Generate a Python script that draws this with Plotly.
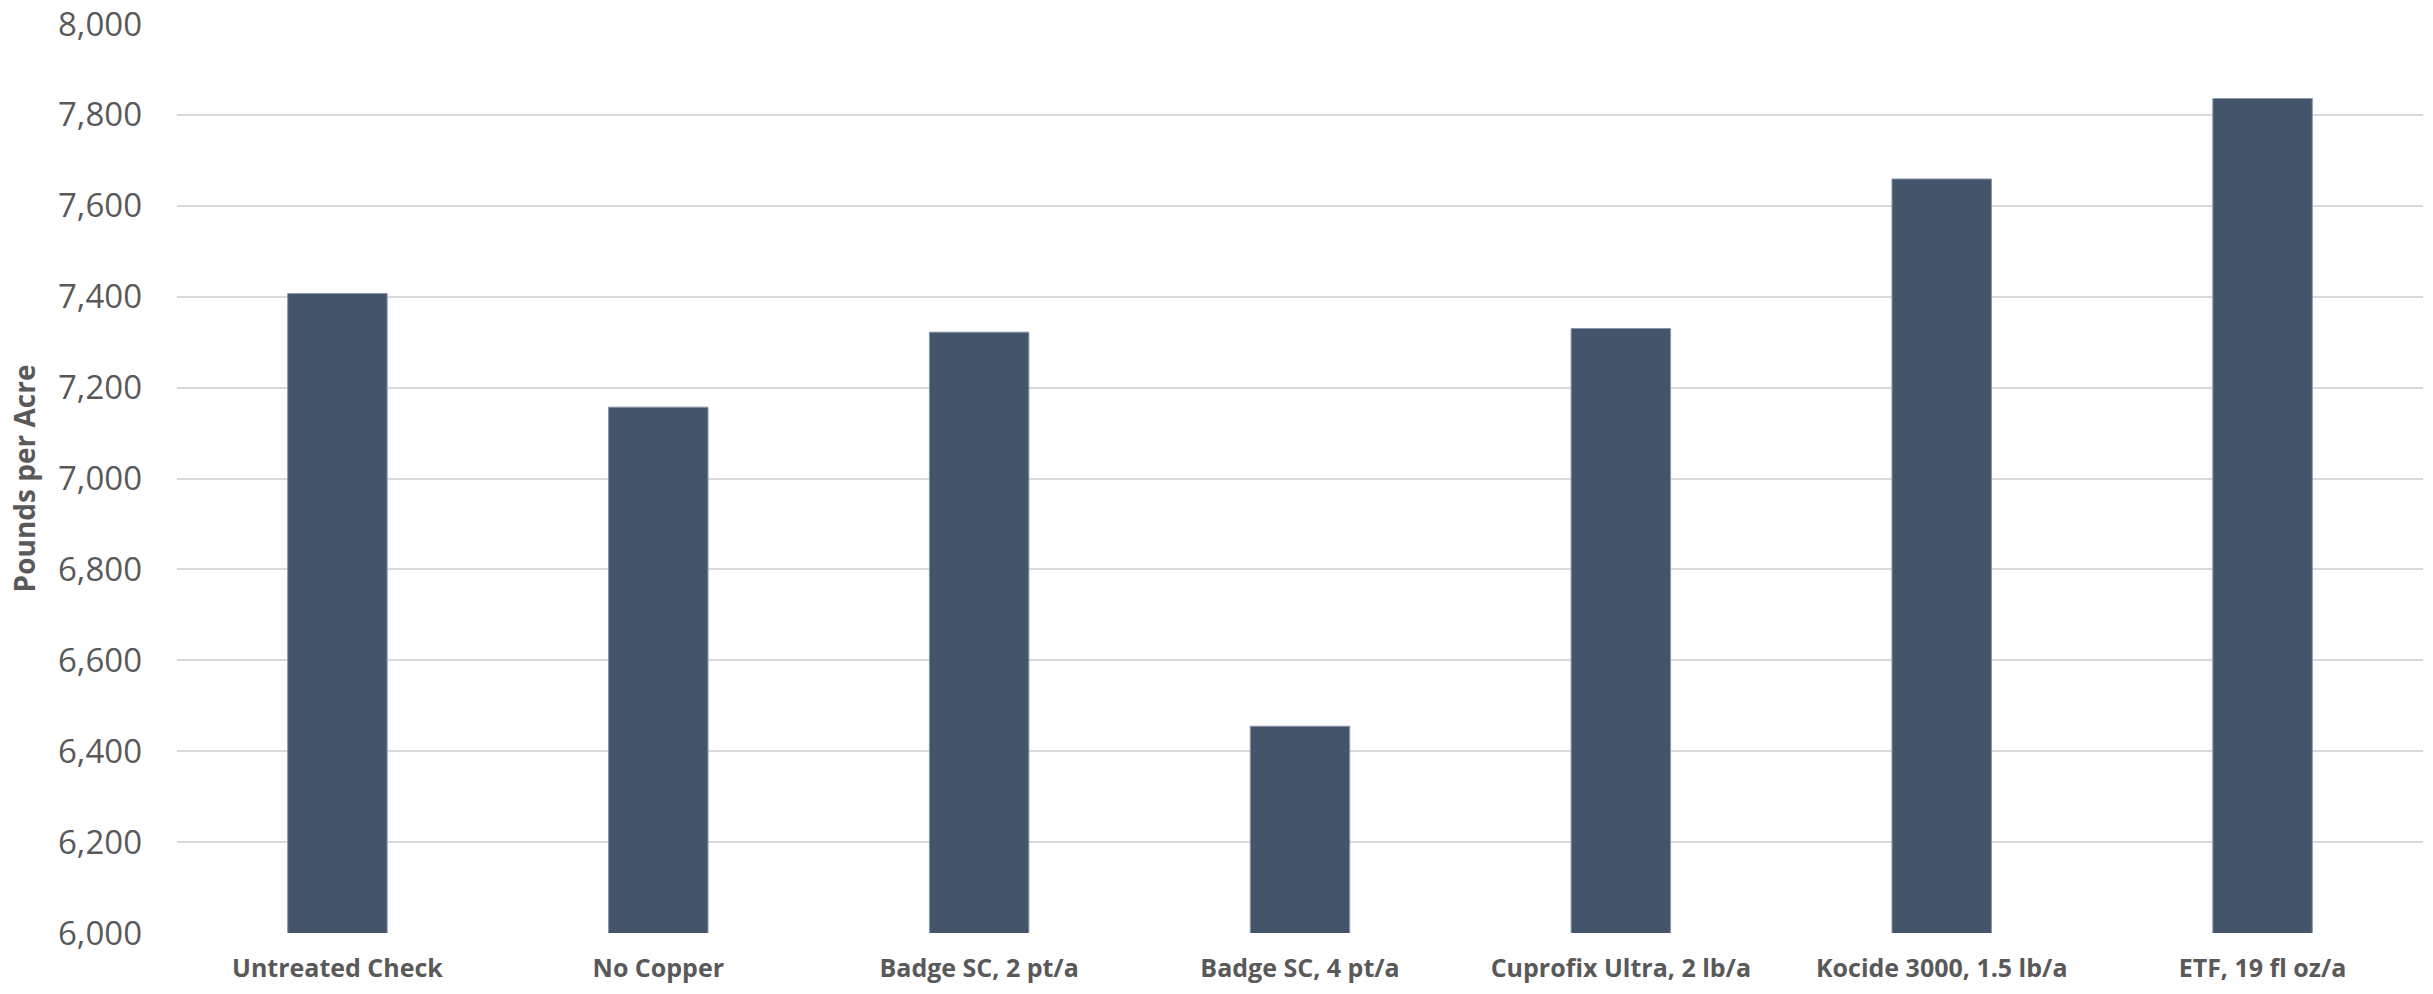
import plotly.graph_objects as go

categories = ["Untreated Check", "No Copper", "Badge SC, 2 pt/a", "Badge SC, 4 pt/a",
              "Cuprofix Ultra, 2 lb/a", "Kocide 3000, 1.5 lb/a", "ETF, 19 fl oz/a"]
yield_lbs = [7407, 7157, 7322, 6455, 7330, 7659, 7836]
y_ticks = [6000, 6200, 6400, 6600, 6800, 7000, 7200, 7400, 7600, 7800, 8000]
y_tick_text = ["6,000", "6,200", "6,400", "6,600", "6,800", "7,000", "7,200", "7,400", "7,600", "7,800", "8,000"]

fig = go.Figure(go.Bar(
    x=categories, y=yield_lbs,
    marker=dict(color="#44546a", line=dict(color="#8a97a8", width=1)),
    hoverinfo="x+y",
))

fig.update_layout(
    width=2433, height=994,
    margin=dict(l=177, r=10, t=24, b=61),
    paper_bgcolor="white", plot_bgcolor="white",
    bargap=0.69,
    showlegend=False,
    font=dict(family="Open Sans", color="#595959"),
)
fig.update_xaxes(
    automargin=False,
    showgrid=False, showline=False, zeroline=False,
    tickfont=dict(family="Open Sans", size=25, color="#595959", weight="bold"),
    ticklabelstandoff=18,
)
fig.update_yaxes(
    automargin=False,
    range=[6000, 8000], tickvals=y_ticks, ticktext=y_tick_text,
    ticklabeloverflow="allow",
    showgrid=True, gridcolor="#d9d9d9", gridwidth=2, zeroline=False, showline=False,
    tickfont=dict(family="Open Sans", size=33, color="#595959"),
    ticklabelstandoff=34,
    title=dict(text="<b>Pounds per Acre</b>", font=dict(family="Open Sans", size=28, color="#595959"), standoff=14),
)
fig.write_html(
    "out.html",
    config={"displayModeBar": False},
    post_script="document.body.style.margin='0';document.body.style.overflow='hidden';",
)
